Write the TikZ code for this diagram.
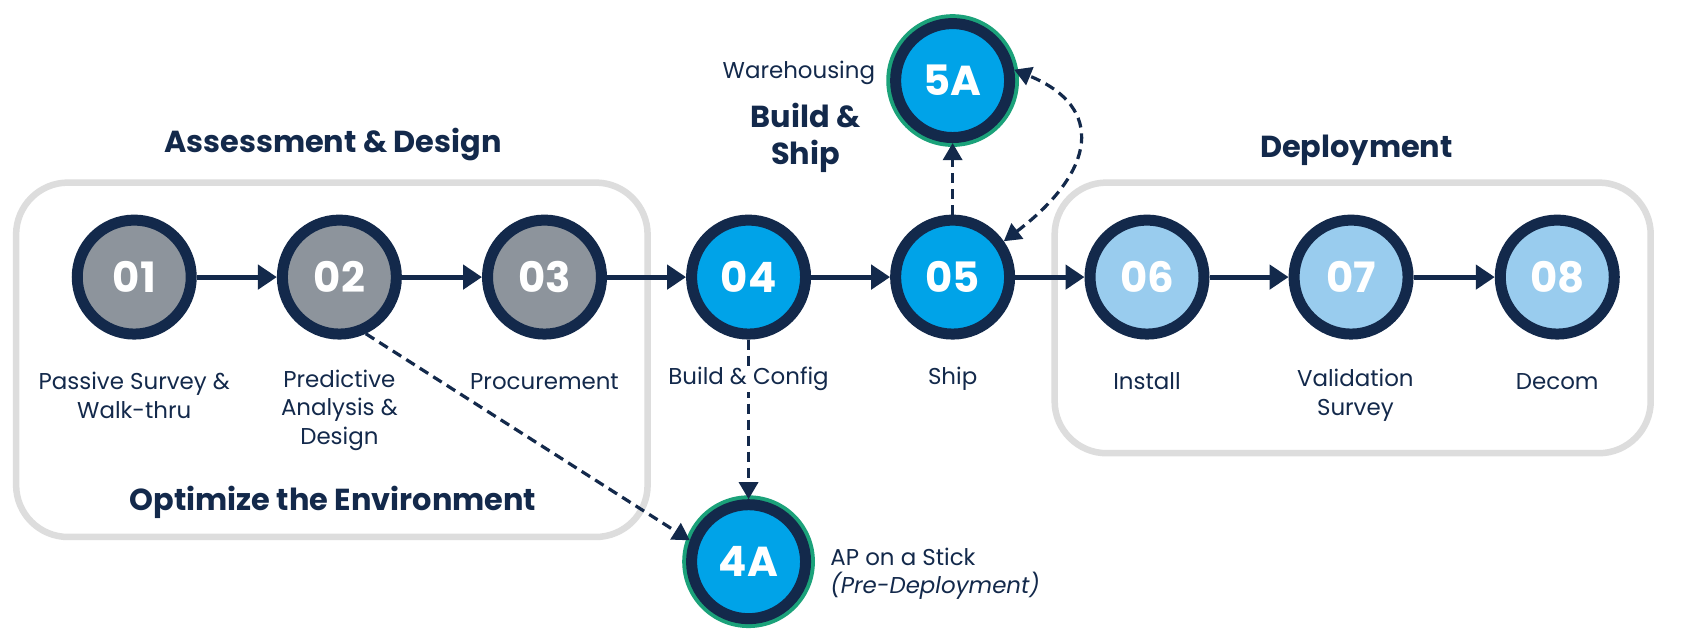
\documentclass[tikz,border=0pt]{standalone}
\usepackage{fontspec}
\setmainfont{Poppins}
\usetikzlibrary{arrows.meta}
\definecolor{navy}{HTML}{13294B}
\definecolor{gr}{HTML}{8D949C}
\definecolor{bb}{HTML}{00A3E8}
\definecolor{lb}{HTML}{99CCEE}
\definecolor{box}{HTML}{DDDDDD}
\definecolor{grn}{HTML}{1BA27A}
\begin{document}
\begin{tikzpicture}[x=1.074bp,y=-1.074bp,
 stp/.style={circle,draw=navy,line width=11bp,minimum size=114bp,inner sep=0pt,text=white,font=\fontsize{42}{42}\selectfont\bfseries},
 lab/.style={font=\fontsize{23}{28.5}\selectfont,text=navy,align=center},
 head/.style={font=\fontsize{30.5}{37}\selectfont\bfseries,text=navy,align=center},
 arr/.style={draw=navy,line width=5bp,-{Triangle[length=19bp,width=24bp]}},
 darr/.style={draw=navy,line width=3.2bp,dash pattern=on 10bp off 6bp,-{Triangle[length=17bp,width=19bp]}},
 grp/.style={draw=box,line width=6.5bp,rounded corners=52bp}]
\path[use as bounding box,fill=white] (0,0) rectangle (1568,597);
\begin{scope}[overlay]
\draw[grp] (15,170) rectangle (603,500);
\draw[grp] (982,170) rectangle (1537,422);
\node[stp,fill=gr] (s1) at (125,258) {01};
\node[stp,fill=gr] (s2) at (316,258) {02};
\node[stp,fill=gr] (s3) at (507,258) {03};
\node[stp,fill=bb] (s4) at (697,258) {04};
\node[stp,fill=bb] (s5) at (887,258) {05};
\node[stp,fill=lb] (s6) at (1068,258) {06};
\node[stp,fill=lb] (s7) at (1258,258) {07};
\node[stp,fill=lb] (s8) at (1450,258) {08};
\draw[grn,line width=6bp] (887,75) circle (59);
\draw[grn,line width=6bp] (697,523) circle (59);
\node[stp,fill=bb] (s5a) at (887,75) {5A};
\node[stp,fill=bb] (s4a) at (697,523) {4A};
\foreach \a/\b in {s1/s2,s2/s3,s3/s4,s4/s5,s5/s6,s6/s7,s7/s8} \draw[arr] (\a) -- (\b);
\draw[darr] (s4) -- (s4a);
\draw[darr] (s5) -- (s5a);
\draw[darr] (s2.-65) -- (s4a.160);
\draw[darr,{Triangle[length=17bp,width=19bp]}-{Triangle[length=17bp,width=19bp]}] (s5.35) .. controls (1020,160) and (1030,100) .. (s5a.10);
\node[head] (h1) at (310,135) {Assessment \& Design};
\node[head] (h2) at (310,468) {Optimize the Environment};
\node[head] (h3) at (750,128) {Build \&\\Ship};
\node[head] (h4) at (1263,140) {Deployment};
\node[lab,anchor=east] (w) at (818,68) {Warehousing};
\node[lab] (l1) at (125,368) {Passive Survey \&\\Walk-thru};
\node[lab] (l2) at (316,382) {Predictive\\Analysis \&\\Design};
\node[lab] (l3) at (507,355) {Procurement};
\node[lab,fill=white,inner sep=1bp] (l4) at (697,353) {Build \& Config};
\node[lab] (l5) at (887,353) {Ship};
\node[lab] (l6) at (1068,355) {Install};
\node[lab] (l7) at (1262,368) {Validation\\Survey};
\node[lab] (l8) at (1450,355) {Decom};
\node[lab,align=left,anchor=west] (l4a) at (770,534) {AP on a Stick\\\itshape(Pre-Deployment)};
\end{scope}
\end{tikzpicture}
\end{document}
